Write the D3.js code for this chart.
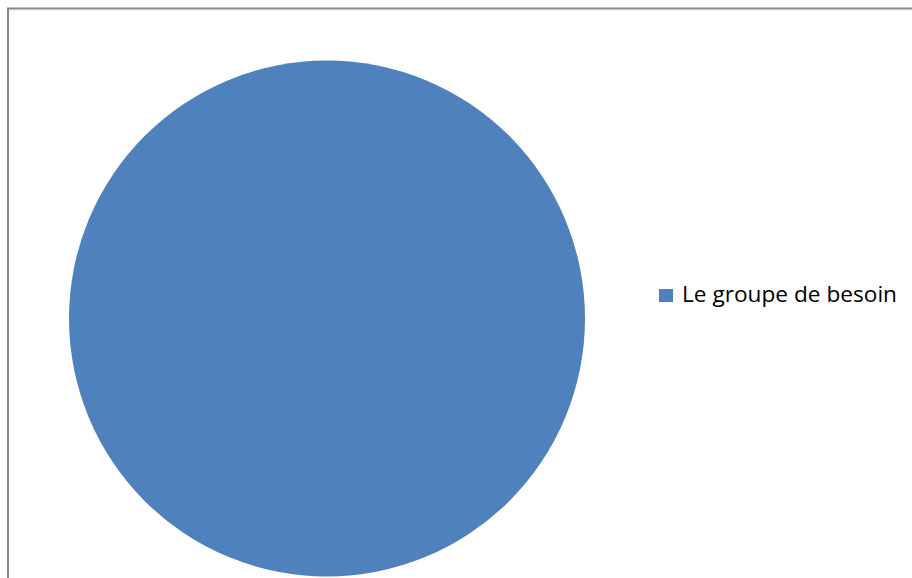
<!DOCTYPE html>
<html>
<head>
<meta charset="utf-8">
<script src="https://cdn.jsdelivr.net/npm/d3@7"></script>
<style>
  html, body { margin: 0; padding: 0; background: #fff; }
  svg { display: block; }
</style>
</head>
<body>
<svg id="chart" width="912" height="578"></svg>
<script>
// Pie data: a single category covering the whole circle
const categories = ["Le groupe de besoin"];
const values = [1];
const colors = ["#4F81BD"];

const svg = d3.select("#chart");

// Chart area frame (top and left edges visible)
svg.append("path")
  .attr("d", "M8,578 V8.5 H912")
  .attr("fill", "none")
  .attr("stroke", "#868686")
  .attr("stroke-width", 2);
svg.append("line")
  .attr("x1", 9).attr("x2", 912).attr("y1", 10).attr("y2", 10)
  .attr("stroke", "#d8d8d8").attr("stroke-width", 1);

const cx = 327, cy = 318.5, r = 258;

const pie = d3.pie().sort(null).value(d => d.v);
const arc = d3.arc().innerRadius(0).outerRadius(r);
const color = d3.scaleOrdinal().domain(categories).range(colors);

const data = categories.map((c, i) => ({ c, v: values[i] }));

svg.append("g")
  .attr("transform", `translate(${cx},${cy})`)
  .selectAll("path")
  .data(pie(data))
  .join("path")
  .attr("d", arc)
  .attr("fill", d => color(d.data.c));

// Legend
const legend = svg.append("g")
  .selectAll("g")
  .data(categories)
  .join("g")
  .attr("transform", (d, i) => `translate(659,${289 + i * 24})`);

legend.append("rect")
  .attr("width", 14).attr("height", 13)
  .attr("fill", d => color(d));

legend.append("text")
  .attr("x", 23).attr("y", 13)
  .attr("font-family", "'Open Sans', sans-serif")
  .attr("font-size", 21)
  .attr("fill", "#000")
  .attr("textLength", 215)
  .attr("lengthAdjust", "spacingAndGlyphs")
  .text(d => d);
</script>
</body>
</html>
